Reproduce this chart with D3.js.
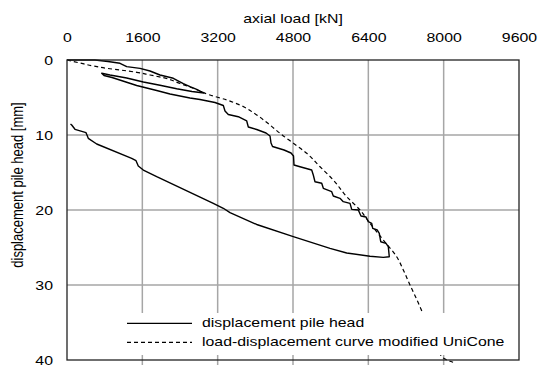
<!DOCTYPE html>
<html>
<head>
<meta charset="utf-8">
<script src="https://cdn.jsdelivr.net/npm/d3@7"></script>
<style>
  body { margin: 0; background: #fff; }
  text { font-family: "Liberation Sans", Arial, sans-serif; font-size: 13px; fill: #000; }
</style>
</head>
<body>
<script>
// measured pile head displacement (load in kN, displacement in mm)
var pileLoad = [0, 276, 595, 871, 1126, 1268, 1550, 1763, 1975, 2258, 2470, 2612, 2755, 2846, 2910,
  2655, 2330, 1975, 1621, 1268, 913, 737,
  786, 956, 1480, 1905, 2188, 2612, 2825, 2931,
  3143, 3320, 3356, 3426, 3638, 3817, 3851, 4029, 4227, 4312, 4333, 4365, 4610, 4758, 4811, 4821,
  4949, 5197, 5231, 5267, 5410, 5444, 5622, 5656, 5798, 5868, 6011, 6047, 6187, 6244, 6351, 6399,
  6472, 6493, 6590, 6633, 6663, 6775, 6824, 6845,
  6718, 6435, 5941, 5586, 4806, 4029, 3462, 3320, 3107, 1905, 1621, 1514, 1466, 1374, 631, 452,
  404, 170, 100, 74];
var pileDisp = [0, 0, 0, 0.2, 0.44, 0.89, 1.11, 1.47, 2.0, 2.44, 3.15, 3.56, 3.91, 4.2, 4.4,
  4.2, 3.83, 3.37, 2.93, 2.4, 2.0, 1.77,
  2.07, 2.33, 3.4, 4.07, 4.53, 5.07, 5.27, 5.4,
  5.67, 6.07, 6.8, 7.27, 7.56, 8.13, 8.93, 9.27, 9.73, 10.13, 11.07, 11.53, 12.0, 12.4, 12.8, 14.0,
  14.23, 14.67, 15.33, 16.23, 16.44, 17.11, 17.56, 18.13, 18.44, 18.89, 19.11, 19.91, 20.0, 20.8, 20.93, 21.56,
  21.77, 22.44, 22.67, 23.11, 24.23, 24.44, 24.89, 26.23,
  26.31, 26.16, 25.73, 25.11, 23.56, 21.93, 20.36, 19.77, 19.11, 15.56, 14.67, 14.13, 13.43, 13.11, 11.2, 10.44,
  9.69, 9.24, 8.67, 8.53];

// load-displacement curve modified UniCone
var modelLoad = [0, 276, 559, 843, 1126, 1480, 1763, 2045, 2400, 2682, 3037, 3392, 3674, 4029, 4312,
  4524, 4807, 5091, 5374, 5656, 5941, 6223, 6435, 6718, 7002, 7143, 7285, 7434, 7710, 7986, 8200];
var modelDisp = [0, 0.4, 0.8, 1.11, 1.33, 1.64, 2.0, 2.36, 3.13, 3.77, 4.67, 5.33, 6.0, 7.33, 8.67,
  9.77, 11.1, 12.44, 14.23, 16.0, 18.23, 20.0, 21.77, 24.0, 26.23, 28.0, 30.0, 32.0, 36.0, 39.7, 40.3];

var xTicks = [0, 1600, 3200, 4800, 6400, 8000, 9600];
var yTicks = [0, 10, 20, 30, 40];
var legendNames = ["displacement pile head", "load-displacement curve modified UniCone"];

var sx = 1.22; // glyphs in the reference are stretched horizontally

var margin = {top: 60, right: 24, bottom: 10, left: 67},
    width = 543 - margin.left - margin.right,
    height = 300;

var x = d3.scaleLinear().domain([0, 9600]).range([0, width]);
var y = d3.scaleLinear().domain([0, 40]).range([0, height]);

var svg = d3.select("body").append("svg")
    .attr("width", 543)
    .attr("height", 370)
  .append("g")
    .attr("transform", "translate(" + margin.left + "," + margin.top + ")");

// grid
svg.selectAll(".vgrid").data(xTicks.slice(1, -1)).enter().append("line")
    .attr("x1", d => x(d)).attr("x2", d => x(d))
    .attr("y1", 0).attr("y2", height + 5)
    .attr("stroke", "#a6a6a6").attr("stroke-width", 1.5);
svg.selectAll(".hgrid").data(yTicks.slice(1, -1)).enter().append("line")
    .attr("x1", 0).attr("x2", width)
    .attr("y1", d => y(d)).attr("y2", d => y(d))
    .attr("stroke", "#a6a6a6").attr("stroke-width", 1.5);

var pilePts = pileLoad.map((q, i) => [q, pileDisp[i]]);
var modelPts = modelLoad.map((q, i) => [q, modelDisp[i]]);

var line = d3.line()
    .x(d => x(d[0]))
    .y(d => y(d[1]));

svg.append("path")
    .datum(modelPts)
    .attr("fill", "none")
    .attr("stroke", "#000")
    .attr("stroke-width", 1.2)
    .attr("stroke-dasharray", "4,3")
    .attr("d", line.curve(d3.curveMonotoneY));

svg.append("path")
    .datum(pilePts)
    .attr("fill", "none")
    .attr("stroke", "#000")
    .attr("stroke-width", 1.4)
    .attr("stroke-linejoin", "round")
    .attr("d", line.curve(d3.curveLinear));

// legend
var lg = svg.append("g");
lg.append("rect")
    .attr("x", 51).attr("y", 253)
    .attr("width", 330).attr("height", 42)
    .attr("fill", "#fff");
legendNames.forEach(function(name, i) {
  var ly = 263.3 + i * 19;
  lg.append("line")
      .attr("x1", 60).attr("x2", 125)
      .attr("y1", ly).attr("y2", ly)
      .attr("stroke", "#000").attr("stroke-width", 1.2)
      .attr("stroke-dasharray", i ? "4,3" : null);
  lg.append("g")
      .attr("transform", "translate(135," + (ly + 4) + ") scale(" + sx + ",1)")
    .append("text")
      .text(name);
});

// frame
svg.append("rect")
    .attr("width", width).attr("height", height)
    .attr("fill", "none").attr("stroke", "#222").attr("stroke-width", 1.3);

// x axis on top
var xAxis = svg.append("g")
    .call(d3.axisTop(x).tickValues(xTicks).tickFormat(d3.format("d")).tickSize(0).tickPadding(18));
xAxis.select(".domain").remove();
xAxis.selectAll("text")
    .attr("transform", "scale(" + sx + ",1)")
    .style("font-size", "13px").style("font-family", null);

var yAxis = svg.append("g")
    .call(d3.axisLeft(y).tickValues(yTicks).tickFormat(d3.format("d")).tickSize(0).tickPadding(14 / sx));
yAxis.select(".domain").remove();
yAxis.selectAll("text")
    .attr("transform", "scale(" + sx + ",1)")
    .style("font-size", "13px").style("font-family", null);

// axis titles
svg.append("g")
    .attr("transform", "translate(" + (width / 2) + ",-37) scale(" + sx + ",1)")
  .append("text")
    .attr("text-anchor", "middle")
    .text("axial load [kN]");

svg.append("g")
    .attr("transform", "translate(-44," + (height / 2 - 25) + ") scale(" + sx + ",1) rotate(-90)")
  .append("text")
    .attr("text-anchor", "middle")
    .text("displacement pile head [mm]");
</script>
</body>
</html>
